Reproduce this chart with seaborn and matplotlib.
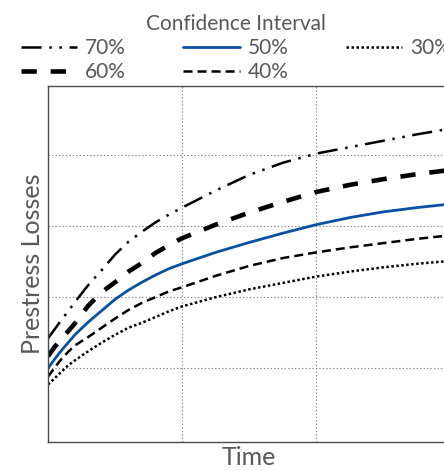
import matplotlib
matplotlib.use("Agg")
import matplotlib.pyplot as plt
import seaborn as sns
import pandas as pd

# Time axis (arbitrary units) and prestress-loss curves per confidence level
time = [0.0, 0.05, 0.1, 0.15, 0.2, 0.3, 0.4, 0.5, 0.6, 0.7, 0.8, 0.9, 1.0,
        1.25, 1.5, 1.75, 2.0, 2.25, 2.5, 2.75, 3.0]
loss_70 = [1.42, 1.55, 1.68, 1.80, 1.93, 2.17, 2.38, 2.60, 2.78, 2.92, 3.05, 3.16, 3.26,
           3.50, 3.72, 3.89, 4.02, 4.11, 4.20, 4.29, 4.37]
loss_60 = [1.17, 1.30, 1.42, 1.52, 1.63, 1.88, 2.07, 2.21, 2.36, 2.48, 2.62, 2.73, 2.83,
           3.02, 3.19, 3.34, 3.48, 3.58, 3.66, 3.73, 3.79]
loss_50 = [1.00, 1.13, 1.25, 1.36, 1.47, 1.65, 1.81, 1.97, 2.10, 2.21, 2.31, 2.40, 2.47,
           2.63, 2.77, 2.90, 3.02, 3.12, 3.20, 3.26, 3.31]
loss_40 = [0.88, 1.01, 1.13, 1.23, 1.32, 1.44, 1.57, 1.70, 1.82, 1.92, 2.00, 2.08, 2.14,
           2.30, 2.44, 2.55, 2.63, 2.70, 2.76, 2.82, 2.87]
loss_30 = [0.77, 0.86, 0.95, 1.04, 1.11, 1.24, 1.36, 1.47, 1.57, 1.64, 1.72, 1.80, 1.87,
           2.00, 2.11, 2.20, 2.29, 2.36, 2.42, 2.47, 2.51]

labels = ["70%", "60%", "50%", "40%", "30%"]
series = [loss_70, loss_60, loss_50, loss_40, loss_30]

sns.set_theme(style="white")
plt.rcParams["font.family"] = ["Lato", "DejaVu Sans"]
plt.rcParams["lines.scale_dashes"] = False

fig = plt.figure(figsize=(4.44, 4.71), dpi=100)
ax = fig.add_axes([48 / 444, (471 - 442) / 471, (450.5 - 48) / 444, (442 - 86) / 471])

styles = {
    "70%": dict(color="black", linewidth=1.8, linestyle=(0, (14.5, 5.5, 1.8, 5.5, 1.8, 5.5))),
    "60%": dict(color="black", linewidth=3.3, linestyle=(0, (11, 10))),
    "50%": dict(color="#0a50a2", linewidth=2.0, linestyle="-"),
    "40%": dict(color="black", linewidth=1.8, linestyle=(0, (6.5, 3.6))),
    "30%": dict(color="black", linewidth=1.8, linestyle=(0, (1.8, 1.8))),
}

for lab, vals in zip(labels, series):
    df = pd.DataFrame({"Time": time, "Loss": vals})
    sns.lineplot(data=df, x="Time", y="Loss", ax=ax, estimator=None,
                 label=lab, **styles[lab])

ax.set_xlim(0, 3)
ax.set_ylim(-0.037, 4.97)
ax.set_xticks([1, 2])
ax.set_yticks([1, 2, 3, 4])
ax.tick_params(length=0, labelbottom=False, labelleft=False)
ax.grid(True, linestyle=(0, (1, 1.5)), color="#888888", linewidth=0.8)
for side in ["left", "bottom", "top", "right"]:
    ax.spines[side].set_color("#4a4a4a")
    ax.spines[side].set_linewidth(1.0)

text_color = "#585858"
ax.set_xlabel("Time", fontsize=18, color=text_color, labelpad=3)
ax.set_ylabel("Prestress Losses", fontsize=18, color=text_color, labelpad=3)

h, l = ax.get_legend_handles_labels()
ax.get_legend().remove()
leg = fig.legend(h, l, loc="center", bbox_to_anchor=(236 / 444, 1 - 48 / 471),
                 ncol=3, frameon=False, title="Confidence Interval",
                 fontsize=15, handlelength=2.7, handletextpad=0.4,
                 columnspacing=2.75, labelspacing=0.2, borderpad=0.1)
leg.get_title().set_fontsize(15)
leg.get_title().set_color(text_color)
for t in leg.get_texts():
    t.set_color(text_color)

fig.savefig("out.png", dpi=100)
